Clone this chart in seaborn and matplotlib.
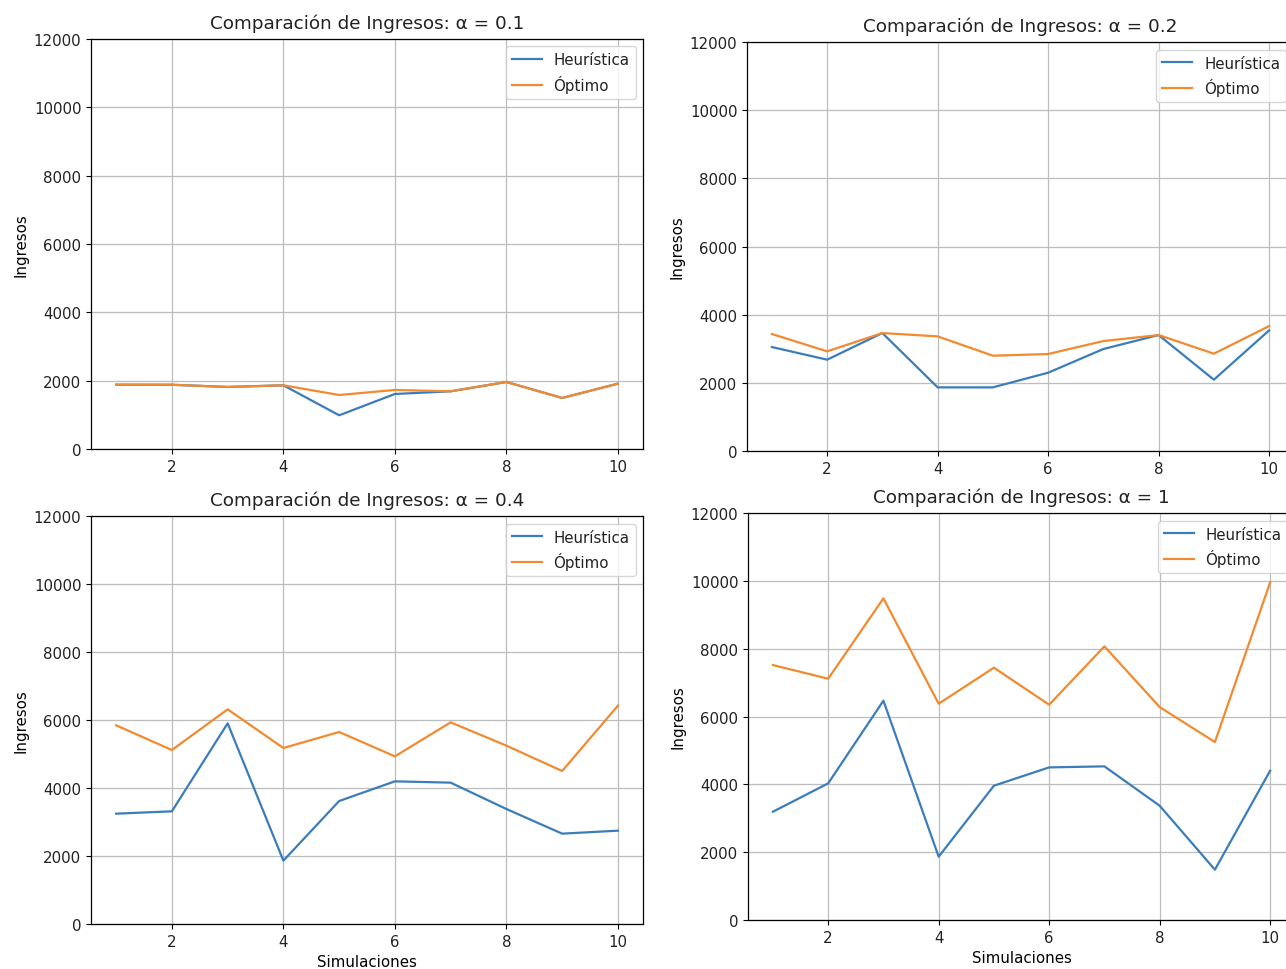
import matplotlib
matplotlib.use("Agg")
import matplotlib.pyplot as plt
import seaborn as sns
import pandas as pd

# Simulation indices and revenue per scenario
simulaciones = list(range(1, 11))

alphas = ["0.1", "0.2", "0.4", "1"]

heuristica_01 = [1882, 1880, 1815, 1864, 986, 1610, 1688, 1961, 1493, 1912]
optimo_01 = [1882, 1880, 1815, 1864, 1580, 1727, 1688, 1961, 1493, 1912]

heuristica_02 = [3051, 2680, 3462, 1868, 1868, 2298, 2993, 3403, 2093, 3540]
optimo_02 = [3433, 2925, 3462, 3364, 2797, 2846, 3227, 3403, 2856, 3667]

heuristica_04 = [3245, 3314, 5902, 1863, 3617, 4196, 4157, 3382, 2657, 2745]
optimo_04 = [5843, 5117, 6314, 5176, 5647, 4931, 5931, 5245, 4500, 6421]

heuristica_1 = [3193, 4029, 6466, 1867, 3960, 4500, 4530, 3370, 1484, 4402]
optimo_1 = [7517, 7114, 9483, 6377, 7439, 6348, 8068, 6279, 5247, 9955]

heuristicas = [heuristica_01, heuristica_02, heuristica_04, heuristica_1]
optimos = [optimo_01, optimo_02, optimo_04, optimo_1]

plt.rcParams["font.size"] = 10.8
plt.rcParams["axes.titlesize"] = 13.2
plt.rcParams["lines.linewidth"] = 1.6
plt.rcParams["text.color"] = "#222222"
plt.rcParams["xtick.labelcolor"] = "#222222"
plt.rcParams["ytick.labelcolor"] = "#222222"

color_heur = "#3b7dbb"
color_opt = "#f28a30"

fig = plt.figure(figsize=(12.86, 9.70), dpi=100)

# Panel rectangles (left, bottom, width, height); right column runs past the edge
rects = [
    (0.0708, 0.5361, 0.4292, 0.4227),
    (0.5809, 0.5340, 0.4253, 0.4216),
    (0.0708, 0.0464, 0.4292, 0.4206),
    (0.5817, 0.0505, 0.4253, 0.4196),
]

for i, (alpha, heur, opt, rect) in enumerate(zip(alphas, heuristicas, optimos, rects)):
    ax = fig.add_axes(rect)
    df = pd.DataFrame({"Simulaciones": simulaciones, "Heurística": heur, "Óptimo": opt})
    sns.lineplot(data=df, x="Simulaciones", y="Heurística", ax=ax,
                 color=color_heur, label="Heurística")
    sns.lineplot(data=df, x="Simulaciones", y="Óptimo", ax=ax,
                 color=color_opt, label="Óptimo")
    ax.set_ylim(0, 12000)
    ax.set_yticks(range(0, 12001, 2000))
    ax.set_xticks([2, 4, 6, 8, 10])
    ax.grid(True, color="#bdbdbd", linewidth=0.9)
    ax.set_axisbelow(True)
    ax.set_title(f"Comparación de Ingresos: α = {alpha}", pad=8)
    ax.set_ylabel("Ingresos")
    if i >= 2:
        ax.set_xlabel("Simulaciones")
    else:
        ax.set_xlabel("")
    ax.legend(loc="upper right")
    for s in ax.spines.values():
        s.set_color("black")
        s.set_linewidth(0.9)

fig.savefig("out.png", dpi=100)
